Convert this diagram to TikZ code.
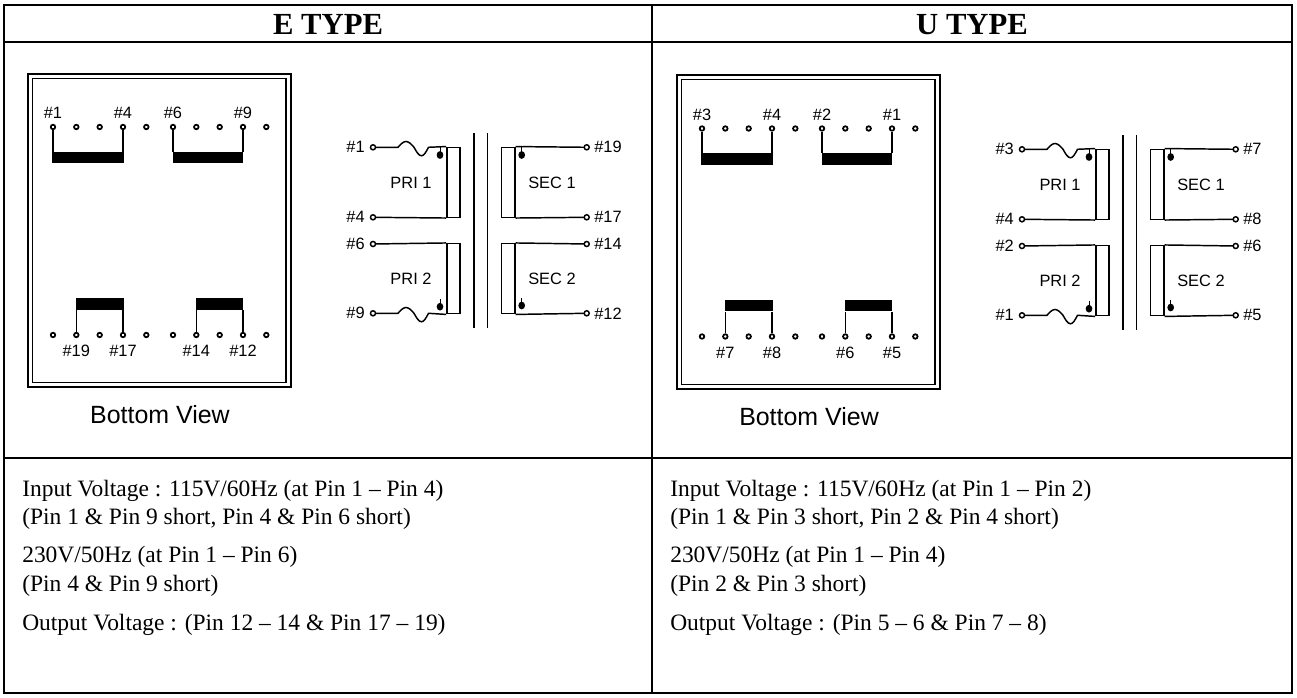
\documentclass[tikz,border=0pt]{standalone}
\usepackage{fontspec}
\setmainfont{Liberation Serif}
\newfontfamily\sansf{Liberation Sans}
\tikzset{
  tbl/.style={line width=1.7pt},
  boxout/.style={line width=1.5pt},
  boxin/.style={line width=0.9pt},
  wire/.style={line width=1.1pt},
  pinc/.style={circle, draw, fill=white, line width=1.3pt, inner sep=0pt, minimum size=3.4pt},
  spin/.style={circle, draw, fill=white, line width=1.1pt, inner sep=0pt, minimum size=3.8pt},
  barst/.style={fill=black, inner sep=0pt, minimum height=8.6pt},
  coilst/.style={draw, line width=1.1pt, inner sep=0pt, minimum width=10pt, minimum height=52.5pt},
  pinlab/.style={font=\sansf\fontsize{12.3}{14}\selectfont, inner sep=0pt},
  viewlab/.style={font=\sansf\fontsize{18.7}{22}\selectfont, inner sep=0pt},
  head/.style={font=\bfseries\fontsize{23}{27}\selectfont, inner sep=0pt, anchor=base},
  body/.style={font=\fontsize{17.6}{21}\selectfont, inner sep=0pt, anchor=base west},
  core/.style={line width=1.1pt},
}
% #1 prefix, #2-#5 top labels, #6-#9 bottom labels
\newcommand{\drawBottomView}[9]{%
  \draw[boxout] (28.3,74) rectangle (290.7,387.3);
  \draw[boxin] (32.3,78.3) rectangle (286,382.7);
  \node[barst, minimum width=53.3pt] (#1bA) at (88,157.7) {};
  \node[barst, minimum width=52.5pt] (#1bB) at (208,157.7) {};
  \node[barst, minimum width=36pt] (#1bC) at (99.7,304.2) {};
  \node[barst, minimum width=35.5pt] (#1bD) at (219.7,304.2) {};
  \foreach \i/\x in {1/53,2/76.3,3/99.7,4/123,5/146.3,6/173,7/196.3,8/219.7,9/243,10/266.3}{
    \node[pinc] (#1t\i) at (\x,127) {};
    \node[pinc] (#1b\i) at (\x,335) {};
  }
  \draw[wire] (#1t1.south) -- (#1t1.south |- #1bA.north);
  \draw[wire] (#1t4.south) -- (#1t4.south |- #1bA.north);
  \draw[wire] (#1t6.south) -- (#1t6.south |- #1bB.north);
  \draw[wire] (#1t9.south) -- (#1t9.south |- #1bB.north);
  \draw[wire] (#1b2.north) -- (#1b2.north |- #1bC.south);
  \draw[wire] (#1b4.north) -- (#1b4.north |- #1bC.south);
  \draw[wire] (#1b7.north) -- (#1b7.north |- #1bD.south);
  \draw[wire] (#1b9.north) -- (#1b9.north |- #1bD.south);
  \node[pinlab] (#1lt1) at (53,113) {#2};
  \node[pinlab] (#1lt4) at (123,113) {#3};
  \node[pinlab] (#1lt6) at (173,113) {#4};
  \node[pinlab] (#1lt9) at (243,113) {#5};
  \node[pinlab] (#1lb2) at (76.3,351) {#6};
  \node[pinlab] (#1lb4) at (123,351) {#7};
  \node[pinlab] (#1lb7) at (196.3,351) {#8};
  \node[pinlab] (#1lb9) at (243,351) {#9};
  \node[viewlab] (#1view) at (160,415) {Bottom View};
}
% #1 prefix, #2-#5 left labels (top to bottom), #6-#9 right labels
\newcommand{\drawSchematic}[9]{%
  \node[coilst] (#1P1) at (453.5,182.3) {};
  \node[coilst] (#1P2) at (453.5,278.7) {};
  \node[coilst] (#1S1) at (508.3,182.3) {};
  \node[coilst] (#1S2) at (508.3,278.7) {};
  \draw[wire] (373,147.3) -- (398,147.3) sin (406,141.5) cos (414,147.3) sin (421.5,155.8) cos (428.5,147.3) -- (#1P1.north west);
  \draw[wire] (373,217.3) -- (#1P1.south west);
  \draw[wire] (373,244) -- (#1P2.north west);
  \draw[wire] (373,313.3) -- (398,313.3) sin (406,307.5) cos (414,313.3) sin (421.5,321.8) cos (428.5,313.3) -- (#1P2.south west);
  \draw[wire] (#1S1.north east) -- (586.7,147.3);
  \draw[wire] (#1S1.south east) -- (586.7,217.3);
  \draw[wire] (#1S2.north east) -- (586.7,244);
  \draw[wire] (#1S2.south east) -- (586.7,313.3);
  \node[spin] (#1L1) at (373,147.3) {};
  \node[spin] (#1L2) at (373,217.3) {};
  \node[spin] (#1L3) at (373,244) {};
  \node[spin] (#1L4) at (373,313.3) {};
  \node[spin] (#1R1) at (586.7,147.3) {};
  \node[spin] (#1R2) at (586.7,217.3) {};
  \node[spin] (#1R3) at (586.7,244) {};
  \node[spin] (#1R4) at (586.7,313.3) {};
  \node[pinlab, anchor=east] (#1tL1) at (365,147.3) {#2};
  \node[pinlab, anchor=east] (#1tL2) at (365,217.3) {#3};
  \node[pinlab, anchor=east] (#1tL3) at (365,244) {#4};
  \node[pinlab, anchor=east] (#1tL4) at (365,313.3) {#5};
  \node[pinlab, anchor=west] (#1tR1) at (594,147.3) {#6};
  \node[pinlab, anchor=west] (#1tR2) at (594,217.3) {#7};
  \node[pinlab, anchor=west] (#1tR3) at (594,244) {#8};
  \node[pinlab, anchor=west] (#1tR4) at (594,313.3) {#9};
  \node[pinlab] (#1nP1) at (411,182.5) {PRI 1};
  \node[pinlab] (#1nP2) at (411,279) {PRI 2};
  \node[pinlab] (#1nS1) at (552,182.5) {SEC 1};
  \node[pinlab] (#1nS2) at (552,279) {SEC 2};
  \draw[core] (474,133.3) -- (474,328.3);
  \draw[core] (487.7,133.3) -- (487.7,328.3);
  \foreach \dx/\dy in {440/155, 440/306.7, 521.7/155, 521.7/305.5}{
    \fill (\dx,\dy) ellipse [x radius=2.5pt, y radius=2.9pt];
    \draw[line width=0.6pt] (\dx,\dy-7.5) -- (\dx,\dy-3);
  }
}
\begin{document}
\begin{tikzpicture}[x=0.75pt, y=-0.75pt]
  \path[fill=white, use as bounding box] (0,0) rectangle (1297,698);
  % table
  \draw[tbl] (4,5) rectangle (1292,693);
  \draw[tbl] (4,42) -- (1292,42);
  \draw[tbl] (4,458) -- (1292,458);
  \draw[tbl] (652,5) -- (652,693);
  \node[head] (hE) at (328,34.3) {E TYPE};
  \node[head] (hU) at (972,34.3) {U TYPE};
  % E type
  \drawBottomView{E}{\#1}{\#4}{\#6}{\#9}{\#19}{\#17}{\#14}{\#12}
  \drawSchematic{EE}{\#1}{\#4}{\#6}{\#9}{\#19}{\#17}{\#14}{\#12}
  % U type
  \begin{scope}[shift={(649,1.5)}]
    \drawBottomView{U}{\#3}{\#4}{\#2}{\#1}{\#7}{\#8}{\#6}{\#5}
  \end{scope}
  \begin{scope}[shift={(649,2)}]
    \drawSchematic{UU}{\#3}{\#4}{\#2}{\#1}{\#7}{\#8}{\#6}{\#5}
  \end{scope}
  % texts
  \node[body] (e1) at (22,497) {Input Voltage : 115V/60Hz (at Pin 1 – Pin 4)};
  \node[body] (e2) at (22,525) {(Pin 1 \& Pin 9 short, Pin 4 \& Pin 6 short)};
  \node[body] (e3) at (22,563) {230V/50Hz (at Pin 1 – Pin 6)};
  \node[body] (e4) at (22,592) {(Pin 4 \& Pin 9 short)};
  \node[body] (e5) at (22,630) {Output Voltage : (Pin 12 – 14 \& Pin 17 – 19)};
  \node[body] (u1) at (670,497) {Input Voltage : 115V/60Hz (at Pin 1 – Pin 2)};
  \node[body] (u2) at (670,525) {(Pin 1 \& Pin 3 short, Pin 2 \& Pin 4 short)};
  \node[body] (u3) at (670,563) {230V/50Hz (at Pin 1 – Pin 4)};
  \node[body] (u4) at (670,592) {(Pin 2 \& Pin 3 short)};
  \node[body] (u5) at (670,630) {Output Voltage : (Pin 5 – 6 \& Pin 7 – 8)};
\end{tikzpicture}
\end{document}
